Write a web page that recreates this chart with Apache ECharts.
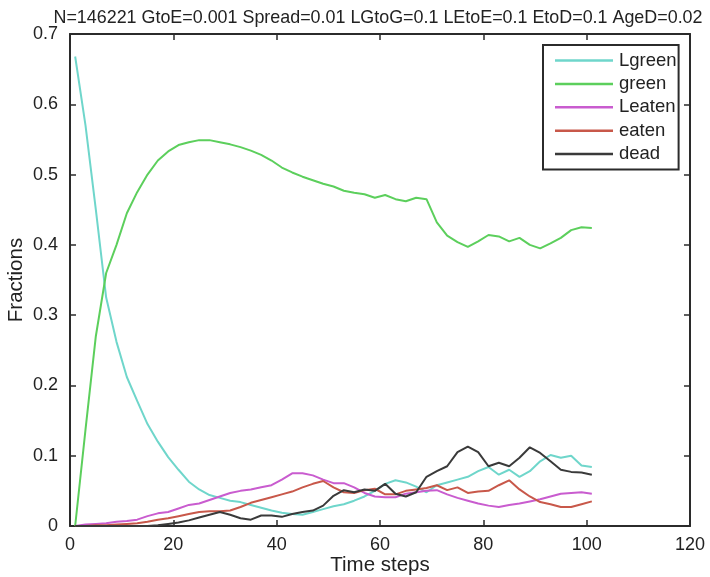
<!DOCTYPE html>
<html>
<head>
<meta charset="utf-8">
<script src="https://cdn.jsdelivr.net/npm/echarts@6/dist/echarts.min.js"></script>
<style>
  html, body { margin: 0; padding: 0; background: #fff; }
  #chart { width: 710px; height: 577px; }
</style>
</head>
<body>
<div id="chart"></div>
<script>
// Simulation time steps (every second step is sampled)
const steps = [1,3,5,7,9,11,13,15,17,19,21,23,25,27,29,31,33,35,37,39,41,43,45,47,49,51,53,55,57,59,61,63,65,67,69,71,73,75,77,79,81,83,85,87,89,91,93,95,97,99,101];

const lgreen = [0.668,0.57,0.45,0.325,0.262,0.212,0.178,0.145,0.12,0.098,0.08,0.063,0.052,0.044,0.040,0.036,0.034,0.030,0.026,0.022,0.019,0.017,0.016,0.020,0.024,0.028,0.031,0.036,0.042,0.050,0.060,0.065,0.062,0.056,0.048,0.058,0.062,0.066,0.070,0.078,0.084,0.073,0.080,0.070,0.078,0.092,0.101,0.097,0.100,0.086,0.084];

const green = [0.0,0.137,0.27,0.36,0.40,0.445,0.475,0.50,0.52,0.533,0.542,0.546,0.549,0.549,0.546,0.543,0.539,0.534,0.528,0.52,0.51,0.503,0.497,0.492,0.487,0.483,0.477,0.474,0.472,0.467,0.471,0.465,0.462,0.467,0.465,0.432,0.413,0.404,0.397,0.405,0.414,0.412,0.405,0.410,0.400,0.395,0.402,0.41,0.421,0.425,0.424];

const leaten = [0.0,0.002,0.003,0.004,0.006,0.007,0.009,0.014,0.018,0.020,0.025,0.030,0.032,0.037,0.042,0.047,0.050,0.052,0.055,0.058,0.066,0.075,0.075,0.072,0.066,0.061,0.061,0.055,0.047,0.042,0.041,0.041,0.046,0.048,0.050,0.051,0.045,0.040,0.036,0.032,0.029,0.027,0.030,0.032,0.035,0.038,0.042,0.046,0.047,0.048,0.046];

const eaten = [0,0,0.001,0.001,0.002,0.003,0.004,0.006,0.009,0.011,0.014,0.017,0.020,0.021,0.021,0.022,0.027,0.033,0.037,0.041,0.045,0.049,0.055,0.060,0.064,0.055,0.048,0.047,0.051,0.053,0.045,0.045,0.050,0.052,0.054,0.058,0.051,0.055,0.047,0.049,0.050,0.058,0.065,0.052,0.042,0.034,0.031,0.027,0.027,0.031,0.035];

const dead = [0,0,0,0,0,0,0,0,0.001,0.003,0.005,0.008,0.012,0.016,0.020,0.016,0.011,0.009,0.015,0.015,0.013,0.017,0.020,0.022,0.029,0.043,0.051,0.048,0.052,0.050,0.060,0.046,0.042,0.048,0.070,0.078,0.085,0.105,0.113,0.105,0.085,0.090,0.085,0.097,0.112,0.104,0.092,0.080,0.077,0.076,0.073];

const xTicks = [0, 20, 40, 60, 80, 100, 120];
const yTicks = [0, 0.1, 0.2, 0.3, 0.4, 0.5, 0.6, 0.7];

const seriesNames = ['Lgreen', 'green', 'Leaten', 'eaten', 'dead'];
const seriesValues = [lgreen, green, leaten, eaten, dead];
const seriesColors = ['#6fd6cb', '#5ccf5c', '#c95ccf', '#c8584a', '#3a3a3a'];

const FONT = 'Liberation Sans, Arial, sans-serif';
const AXIS_COLOR = '#2b2b2b';

const pairs = vals => steps.map((t, i) => [t, vals[i]]);

const chart = echarts.init(document.getElementById('chart'), null, { renderer: 'canvas' });

const baseAxis = {
  axisLine: { show: true, onZero: false, lineStyle: { color: AXIS_COLOR, width: 2 } },
  axisTick: { show: true, inside: true, length: 6, lineStyle: { color: AXIS_COLOR, width: 1.5 } },
  splitLine: { show: false },
};

chart.setOption({
  animation: false,
  backgroundColor: '#fff',
  title: {
    text: 'N=146221 GtoE=0.001 Spread=0.01 LGtoG=0.1 LEtoE=0.1 EtoD=0.1 AgeD=0.02',
    left: 373,
    textAlign: 'center',
    top: 4,
    textStyle: { fontFamily: FONT, fontSize: 17.9, fontWeight: 'normal', color: '#222' }
  },
  grid: { left: 70, right: 20, top: 34, bottom: 51, containLabel: false, outerBoundsMode: 'none' },
  legend: {
    orient: 'vertical',
    left: 543,
    top: 45,
    padding: [6, 2, 6, 12],
    backgroundColor: '#fff',
    borderColor: AXIS_COLOR,
    borderWidth: 2,
    icon: 'rect',
    itemWidth: 58,
    itemHeight: 2.5,
    itemGap: 4.4,
    textStyle: { fontFamily: FONT, fontSize: 18.5, color: '#222', padding: [0, 0, 0, 1] },
    data: seriesNames
  },
  xAxis: [
    Object.assign({}, baseAxis, {
      type: 'value', min: 0, max: 120, interval: 20, position: 'bottom',
      name: 'Time steps', nameLocation: 'middle', nameGap: 29, nameMoveOverlap: false,
      nameTextStyle: { fontFamily: FONT, fontSize: 20.5, color: '#222' },
      axisLabel: {
        fontFamily: FONT, fontSize: 18, color: '#222', margin: 10,
        formatter: v => xTicks.includes(v) ? String(v) : ''
      }
    }),
    Object.assign({}, baseAxis, {
      type: 'value', min: 0, max: 120, interval: 20, position: 'top',
      axisLabel: { show: false }
    })
  ],
  yAxis: [
    Object.assign({}, baseAxis, {
      type: 'value', min: 0, max: 0.7, interval: 0.1, position: 'left',
      name: 'Fractions', nameLocation: 'middle', nameGap: 43, nameRotate: 90, nameMoveOverlap: false,
      nameTextStyle: { fontFamily: FONT, fontSize: 20.5, color: '#222' },
      axisLabel: {
        fontFamily: FONT, fontSize: 18, color: '#222', margin: 12,
        formatter: v => {
          const t = yTicks.find(y => Math.abs(y - v) < 1e-9);
          return t === undefined ? '' : (t === 0 ? '0' : t.toFixed(1));
        }
      }
    }),
    Object.assign({}, baseAxis, {
      type: 'value', min: 0, max: 0.7, interval: 0.1, position: 'right',
      axisLabel: { show: false }
    })
  ],
  series: seriesNames.map((name, i) => ({
    name: name,
    type: 'line',
    xAxisIndex: 0,
    yAxisIndex: 0,
    data: pairs(seriesValues[i]),
    showSymbol: false,
    symbol: 'none',
    smooth: false,
    color: seriesColors[i],
    lineStyle: { width: 2, color: seriesColors[i] },
    emphasis: { disabled: true }
  }))
});
</script>
</body>
</html>
